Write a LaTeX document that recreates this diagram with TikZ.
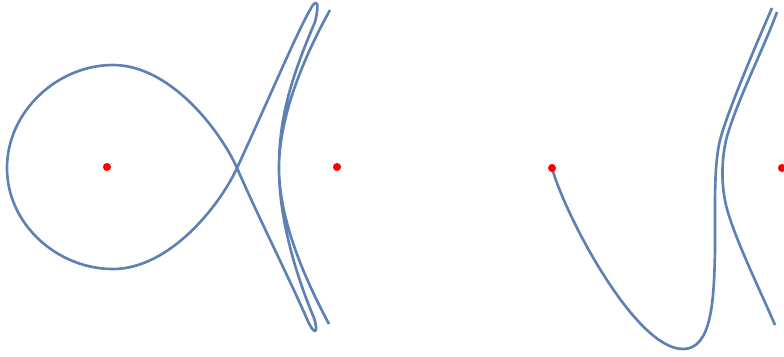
\documentclass[tikz,border=0pt]{standalone}
\usepackage{tikz}
\usetikzlibrary{calc}
\definecolor{orbblue}{RGB}{94,129,181}
\definecolor{ptred}{RGB}{255,0,0}
\tikzset{
  orbit/.style={draw=orbblue, line width=1.5pt, line join=round},
  center/.style={fill=ptred, draw=none},
}

\begin{document}
\begin{tikzpicture}[x=0.02cm, y=-0.02cm]
  \useasboundingbox (0,0) rectangle (784,356);

  % fixed points
  \coordinate (cL1) at (107,167);
  \coordinate (cL2) at (337,167);
  \coordinate (cR1) at (552,168);
  \coordinate (cR2) at (782,168);
  \coordinate (xing) at (237,168);

  % left orbit: loop around cL1, swinging past cL2
  \draw[orbit] (330,10) .. controls (305,55) and (279,115) .. (279,168)
    .. controls (279,222) and (298,280) .. (314,318)
    .. controls (316,324) and (317,331) .. (315,331)
    .. controls (313,331) and (310,326) .. (307,319)
    .. controls (290,280) and (257,214) .. (xing)
    .. controls (220,130) and (170,65) .. (113,65)
    .. controls (57,65) and (7,112) .. (7,168)
    .. controls (7,224) and (57,269) .. (113,269)
    .. controls (170,269) and (220,205) .. (xing)
    .. controls (263,112) and (298,30) .. (310,10)
    .. controls (312,6) and (314,3) .. (316,3)
    .. controls (318,3) and (318,10) .. (315,22)
    .. controls (290,80) and (279,120) .. (279,168)
    .. controls (279,215) and (300,270) .. (329,324);

  % right orbit: starts at cR1
  \draw[orbit] (cR1) .. controls (565,215) and (635,349) .. (683,349)
    .. controls (712,349) and (714,300) .. (715,250)
    .. controls (715,200) and (714,165) .. (720,140)
    .. controls (728,110) and (758,40) .. (772,8);
  \draw[orbit] (777,12) .. controls (765,45) and (740,95) .. (729,130)
    .. controls (722,150) and (720,180) .. (726,205)
    .. controls (733,235) and (760,290) .. (775,325);

  \foreach \p in {cL1,cL2,cR1,cR2}
    \fill[center] (\p) circle[radius=2.3pt];
\end{tikzpicture}
\end{document}
